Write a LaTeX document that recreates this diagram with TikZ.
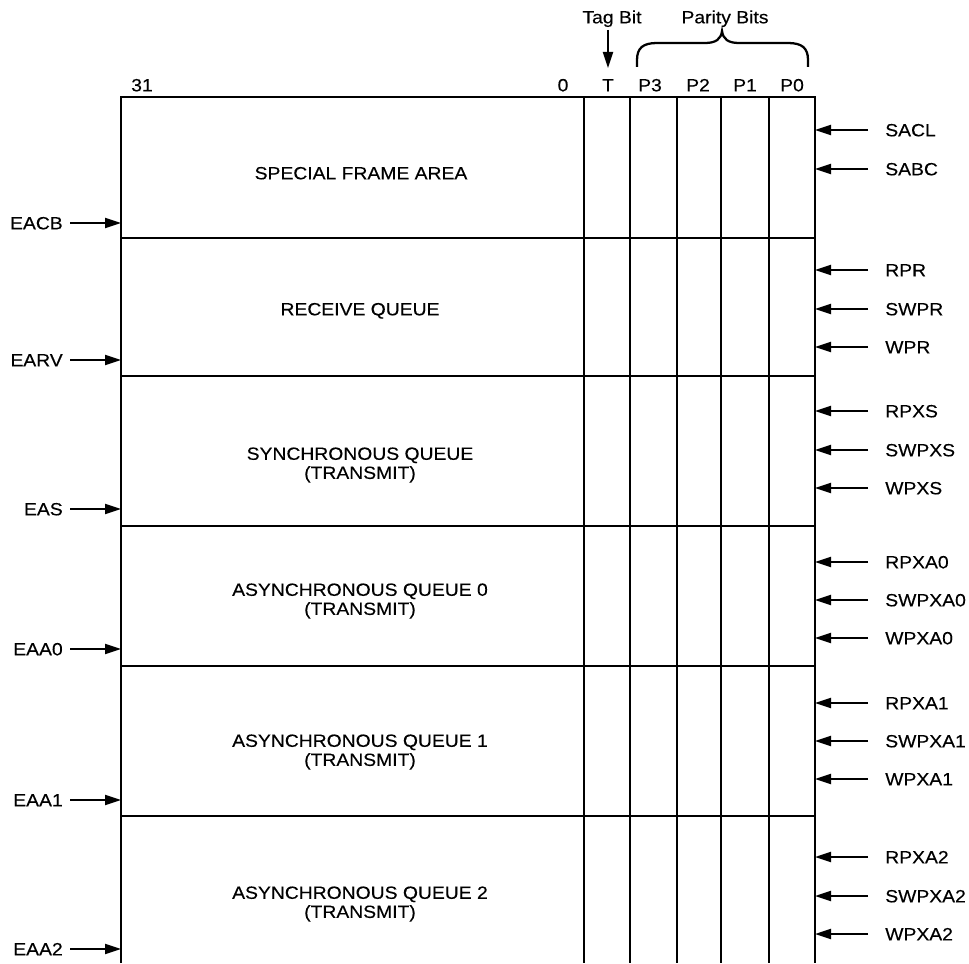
\documentclass[tikz,border=0pt]{standalone}
\usepackage{fontspec}
\setmainfont{Liberation Sans}[FakeStretch=1.09,FakeBold=0.25]
\usetikzlibrary{arrows.meta}
\begin{document}
\begin{tikzpicture}[x=0.75pt,y=-0.75pt,
  every node/.style={font=\fontsize{13.3}{14.3}\selectfont, inner sep=0pt},
  lbl/.style={text height=9.5pt, text depth=0pt},
  frame/.style={line width=1.6pt},
  ptr/.style={line width=1.5pt, -{Triangle[length=12pt,width=7.5pt]}},
  area/.style={align=center}]
\useasboundingbox (0,0) rectangle (969,963);
% frame
\draw[frame] (121,963) -- (121,97) -- (815,97) -- (815,963);
\foreach \x in {584,630,677,721,769} \draw[frame] (\x,97) -- (\x,963);
\foreach \y in {238,376,526,666,816} \draw[frame] (121,\y) -- (815,\y);
% column labels
\node[lbl] (c31) at (142,85) {31};
\node[lbl] (c0) at (563,85) {0};
\node[lbl] (cT) at (608,85) {T};
\node[lbl] (cP3) at (650,85) {P3};
\node[lbl] (cP2) at (698,85) {P2};
\node[lbl] (cP1) at (745,85) {P1};
\node[lbl] (cP0) at (792,85) {P0};
% tag bit and parity bits
\node[lbl] (tag) at (612,17) {Tag Bit};
\node[lbl] (par) at (725,17) {Parity Bits};
\coordinate (tagA) at (608,30);
\coordinate (tagB) at (608,68);
\draw[ptr] (tagA) -- (tagB);
\draw[line width=1.7pt] (637,67) -- (637,60) .. controls (637,48) and (643,43) .. (657,43)
  -- (705,43) .. controls (716,43) and (721,39) .. (722,31)
  .. controls (723,39) and (728,43) .. (739,43) -- (788,43)
  .. controls (802,43) and (808,48) .. (808,60) -- (808,67);
% area labels
\node[lbl] (sfa) at (361,173) {SPECIAL FRAME AREA};
\node[lbl] (rq) at (360,309) {RECEIVE QUEUE};
\node[area] (sq) at (360,465) {SYNCHRONOUS QUEUE\\(TRANSMIT)};
\node[area] (aq0) at (360,601) {ASYNCHRONOUS QUEUE 0\\(TRANSMIT)};
\node[area] (aq1) at (360,752) {ASYNCHRONOUS QUEUE 1\\(TRANSMIT)};
\node[area] (aq2) at (360,904) {ASYNCHRONOUS QUEUE 2\\(TRANSMIT)};
% left pointers
\foreach \n/\y in {EACB/223,EARV/360,EAS/509,EAA0/649,EAA1/800,EAA2/949}{
  \node[lbl,anchor=east] (L\n) at (63,\y) {\n};
  \coordinate (LS\n) at (70,\y);
  \coordinate (LT\n) at (121,\y);
  \draw[ptr] (LS\n) -- (LT\n);
}
% right pointers
\foreach \n/\y in {SACL/130,SABC/169,RPR/270,SWPR/309,WPR/347,RPXS/411,SWPXS/450,WPXS/488,RPXA0/562,SWPXA0/600,WPXA0/638,RPXA1/703,SWPXA1/741,WPXA1/779,RPXA2/857,SWPXA2/896,WPXA2/934}{
  \node[lbl,anchor=west] (R\n) at (885,\y) {\n};
  \coordinate (RS\n) at (868,\y);
  \coordinate (RT\n) at (815,\y);
  \draw[ptr] (RS\n) -- (RT\n);
}
\end{tikzpicture}
\end{document}
